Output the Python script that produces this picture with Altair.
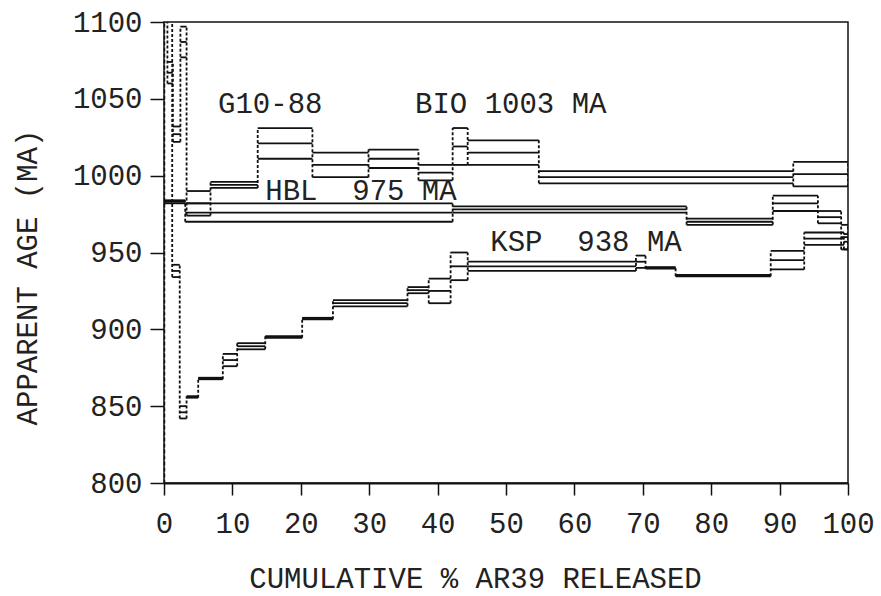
import altair as alt
import pandas as pd

# ---- data (cumulative % 39Ar released step edges, apparent age, 1-sigma error) ----
bio_edges = [0.0, 0.5, 1.3, 2.4, 3.3, 6.8, 13.7, 21.7, 29.9, 37.2, 42.2, 44.4, 54.8, 92.0, 100.0]
bio_age = [1150, 1067, 1027, 1087, 982, 994, 1021, 1007, 1011, 1002, 1019, 1015, 999, 1001]
bio_err = [20, 7, 5, 10, 8, 2, 10, 8, 6, 5, 12, 8, 4, 8]

hbl_edges = [0.0, 3.1, 42.2, 76.4, 89.0, 95.6, 99.0, 100.0]
hbl_age = [983, 976, 978, 970, 982, 973, 960]
hbl_err = [1, 6, 2, 2, 5, 4, 8]

ksp_edges = [0.0, 1.2, 2.3, 3.3, 5.0, 8.6, 10.7, 14.8, 20.2, 24.7, 35.6, 38.7,
             41.9, 44.4, 69.0, 70.4, 74.8, 88.7, 93.6, 99.4, 100.0]
ksp_age = [1150, 938, 846, 856, 868, 880, 889, 895, 907, 917, 925.5, 925,
           941, 941, 944, 940, 935, 945, 959, 957]
ksp_err = [20, 4, 4, 0.5, 0.5, 4, 2, 0.5, 0.5, 2, 2, 8, 9, 3, 4, 0.5, 0.5, 6, 4, 5]

labels = ["G10-88", "BIO 1003 MA", "HBL\u00a0\u00a0975 MA", "KSP\u00a0\u00a0938 MA"]
label_x = [7.9, 36.7, 14.8, 47.7]
label_y = [1046.5, 1046.5, 990, 957]

FONT = "Liberation Mono"
FS = 29
INK = "#111111"
TXT = "#222222"

rows = []
verts = []
for name, edges, ages, errs in [("BIO", bio_edges, bio_age, bio_err),
                                ("HBL", hbl_edges, hbl_age, hbl_err),
                                ("KSP", ksp_edges, ksp_age, ksp_err)]:
    n = len(ages)
    for i in range(n):
        rows.append(dict(spec=name, x0=edges[i], x1=edges[i + 1], age=ages[i],
                         lo=ages[i] - errs[i], hi=ages[i] + errs[i]))
    for j in range(n + 1):
        idx = [k for k in (j - 1, j) if 0 <= k < n]
        lo = min(ages[k] - errs[k] for k in idx)
        hi = max(ages[k] + errs[k] for k in idx)
        verts.append(dict(spec=name, x=edges[j], lo=lo, hi=hi))

steps = pd.DataFrame(rows)
vdf = pd.DataFrame(verts)
ann = pd.DataFrame(dict(text=labels, x=label_x, y=label_y))

xs = alt.Scale(domain=[0, 100], nice=False, zero=False)
ys = alt.Scale(domain=[800, 1100], nice=False, zero=False)

xax = alt.Axis(values=list(range(0, 101, 10)), tickSize=12, tickWidth=1.5, tickColor=INK,
               domainColor=INK, domainWidth=2, labelFont=FONT, labelFontSize=FS,
               labelColor=TXT, labelPadding=14, grid=False, format="d",
               title="CUMULATIVE % AR39 RELEASED", titleFont=FONT, titleFontSize=FS,
               titleFontWeight="normal", titleColor=TXT, titleX=311, titleY=95,
               titleBaseline="middle", titleAlign="center", labelFlush=False)
yax = alt.Axis(values=list(range(800, 1101, 50)), tickSize=14, tickWidth=1.5, tickColor=INK,
               domainColor=INK, domainWidth=1.5, domainDash=[4, 2], labelFont=FONT,
               labelFontSize=FS, labelColor=TXT, labelPadding=8, grid=False, format="d",
               title="APPARENT AGE (MA)", titleFont=FONT, titleFontSize=FS,
               titleFontWeight="normal", titleColor=TXT, titleX=-137, titleY=255,
               titleAngle=270, titleBaseline="middle", titleAlign="center", labelFlush=False)

base = alt.Chart(steps)

hlines = base.transform_fold(["lo", "hi", "age"], as_=["kind", "yv"]).mark_rule(
    color=INK, strokeWidth=1.8, clip=True
).encode(
    x=alt.X("x0:Q", scale=xs, axis=xax),
    x2="x1:Q",
    y=alt.Y("yv:Q", scale=ys, axis=yax),
)

vlines = alt.Chart(vdf).mark_rule(color=INK, strokeWidth=1.8, strokeDash=[3, 2], clip=True).encode(
    x=alt.X("x:Q", scale=xs),
    y=alt.Y("lo:Q", scale=ys),
    y2="hi:Q",
)

text = alt.Chart(ann).mark_text(font=FONT, fontSize=FS, color=TXT, align="left",
                                baseline="middle").encode(
    x=alt.X("x:Q", scale=xs),
    y=alt.Y("y:Q", scale=ys),
    text="text:N",
)

chart = alt.layer(hlines, vlines, text).properties(
    width=684, height=461,
    padding={"left": 164, "top": 22, "right": 33, "bottom": 113},
    autosize="none",
    background="white",
).configure_view(stroke=INK, strokeWidth=1.5)

chart.save("out.html", embed_options={"renderer": "svg", "actions": False})
